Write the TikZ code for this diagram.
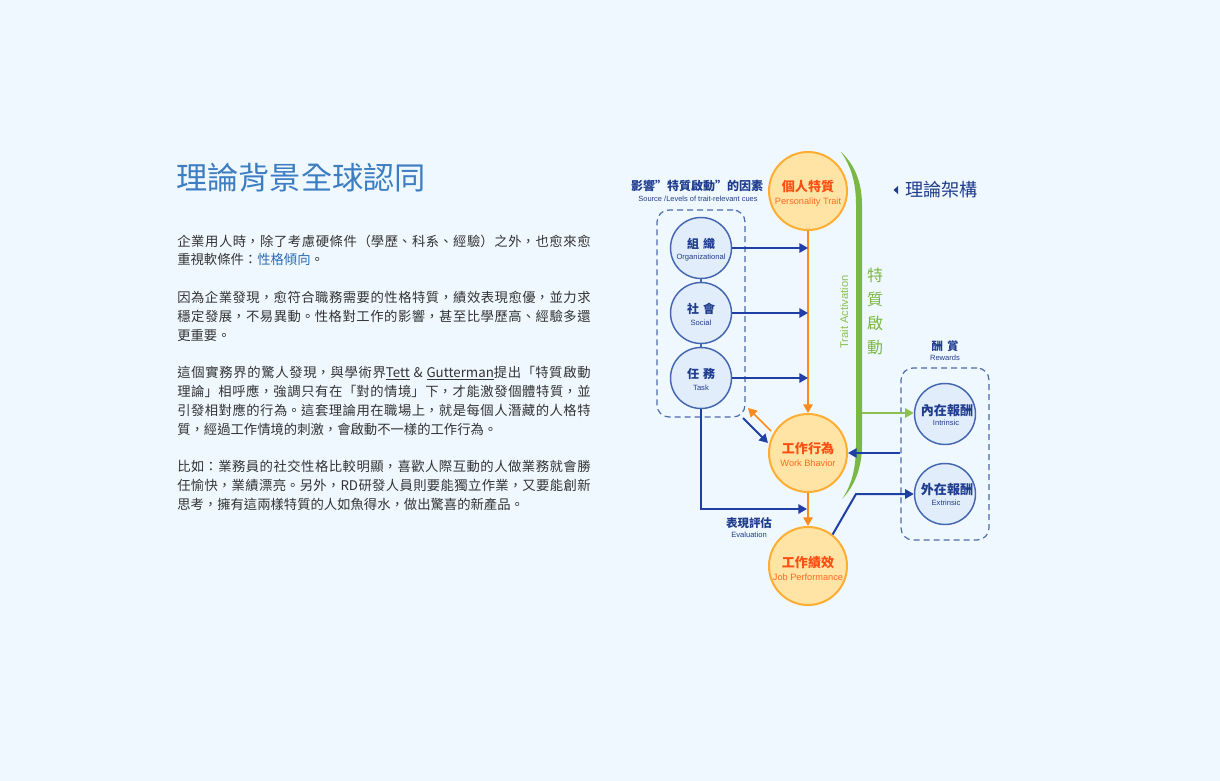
\documentclass[tikz,border=0pt]{standalone}
\usepackage{fontspec}
\setmainfont{Noto Sans CJK TC}
\newfontfamily\lat{Liberation Sans}
\usetikzlibrary{arrows.meta,calc}
\XeTeXlinebreaklocale "zh"
\XeTeXlinebreakskip=0pt plus 1pt
\definecolor{bg}{HTML}{F0F8FF}
\definecolor{titleblue}{HTML}{3D7DC2}
\definecolor{bodytext}{HTML}{333333}
\definecolor{linkblue}{HTML}{2B6CB8}
\definecolor{navy}{HTML}{1F3C8E}
\definecolor{arrowblue}{HTML}{1E3FA3}
\definecolor{cfill}{HTML}{E2EDFB}
\definecolor{cdraw}{HTML}{4466B0}
\definecolor{ofill}{HTML}{FFE4A6}
\definecolor{odraw}{HTML}{FFAD33}
\definecolor{oline}{HTML}{FF8A1C}
\definecolor{otext}{HTML}{FF4E12}
\definecolor{olabel}{HTML}{FF6A1E}
\definecolor{tgreen}{HTML}{7BB843}
\definecolor{lgreen}{HTML}{8CC152}
\definecolor{dashc}{HTML}{4B6BAA}
\tikzset{
  bcirc/.style={circle, draw=cdraw, fill=cfill, line width=1.1pt, minimum size=45.75pt, inner sep=0pt},
  ocirc/.style={circle, draw=odraw, fill=ofill, line width=1.5pt, minimum size=58.5pt, inner sep=0pt},
  dbox/.style={draw=dashc, dash pattern=on 4.5pt off 3pt, line width=0.9pt, rounded corners=9pt, inner sep=0pt},
  barrow/.style={draw=arrowblue, line width=1.5pt, -{Triangle[length=6.5pt,width=7pt]}},
  oarrow/.style={draw=oline, line width=1.5pt, -{Triangle[length=6.5pt,width=7pt]}},
  garrow/.style={draw=lgreen, line width=1.5pt, -{Triangle[length=6.5pt,width=7pt]}},
  body/.style={anchor=base west, inner sep=0pt, text=bodytext, text width=310pt, align=justify, font=\fontsize{10pt}{14.1pt}\selectfont},
  cjkb/.style={inner sep=0pt, text=navy, font=\fontsize{9pt}{10pt}\selectfont\bfseries},
  engs/.style={inner sep=0pt, text=navy, font=\lat\fontsize{5.7pt}{6.5pt}\selectfont},
  ocjk/.style={inner sep=0pt, text=otext, font=\fontsize{9.8pt}{11pt}\selectfont\bfseries},
  oeng/.style={inner sep=0pt, text=olabel, font=\lat\fontsize{6.9pt}{8pt}\selectfont},
}
\begin{document}
\begin{tikzpicture}[x=0.75pt,y=-0.75pt]
\fill[bg] (0,0) rectangle (1220,781);
\useasboundingbox (0,0) rectangle (1220,781);

% ---------- left text ----------
\node[anchor=west, inner sep=0pt, text=titleblue, font=\fontsize{23.4pt}{26pt}\selectfont] (title) at (176,178) {理論背景全球認同};

\node[body] (p1) at (177,246) {企業用人時，除了考慮硬條件（學歷、科系、經驗）之外，也愈來愈\linebreak
重視軟條件：\textcolor{linkblue}{性格傾向}。};

\node[body] (p2) at (177,302.4) {因為企業發現，愈符合職務需要的性格特質，績效表現愈優，並力求\linebreak
穩定發展，不易異動。性格對工作的影響，甚至比學歷高、經驗多還\linebreak
更重要。};

\node[body] (p3) at (177,377.6) {這個實務界的驚人發現，與學術界\underline{Tett} \& \underline{Gutterman}提出「特質啟動\linebreak
理論」相呼應，強調只有在「對的情境」下，才能激發個體特質，並\linebreak
引發相對應的行為。這套理論用在職場上，就是每個人潛藏的人格特\linebreak
質，經過工作情境的刺激，會啟動不一樣的工作行為。};

\node[body] (p4) at (177,471.6) {比如：業務員的社交性格比較明顯，喜歡人際互動的人做業務就會勝\linebreak
任愉快，業績漂亮。另外，RD研發人員則要能獨立作業，又要能創新\linebreak
思考，擁有這兩樣特質的人如魚得水，做出驚喜的新產品。};

% ---------- diagram headers ----------
\node[inner sep=0pt, text=navy, font=\fontsize{9pt}{10pt}\selectfont\bfseries] (srchead) at (697,186) {影響”特質啟動”的因素};
\node[engs, font=\lat\fontsize{5.6pt}{6.5pt}\selectfont] (srcsub) at (698,199) {Source /Levels of trait-relevant cues};

\fill[navy] (898,186) -- (898,194) -- (893.5,190) -- cycle;
\node[anchor=west, inner sep=0pt, text=navy, font=\fontsize{13.6pt}{15pt}\selectfont] (framehead) at (905,190) {理論架構};

% ---------- dashed boxes ----------
\node[dbox, minimum width=66pt, minimum height=155.25pt] (srcbox) at (701,313.5) {};
\node[dbox, minimum width=66pt, minimum height=129pt] (rewbox) at (945,454) {};

% ---------- green crescent ----------
\fill[tgreen] (841,152) .. controls (853,163) and (862,180) .. (862,205)
  -- (862,445) .. controls (862,470) and (853,488) .. (842,499)
  .. controls (851,486) and (856,470) .. (856,445)
  -- (856,205) .. controls (856,180) and (850,165) .. (841,152) -- cycle;
\node[inner sep=0pt, rotate=90, text=lgreen, font=\lat\fontsize{8.4pt}{9pt}\selectfont] (ta) at (844,312) {Trait Activation};
\node[inner sep=0pt, align=center, text=tgreen, font=\fontsize{12pt}{17.8pt}\selectfont] (tachars) at (875,311.5) {特\\質\\啟\\動};

% ---------- source circles ----------
\node[bcirc] (org) at (701,248) {};
\node[bcirc] (soc) at (701,313) {};
\node[bcirc] (task) at (701,378) {};
\draw[cdraw, line width=1.1pt] (org) -- (soc);
\draw[cdraw, line width=1.1pt] (soc) -- (task);
\node[cjkb] (orgT) at (701,244) {組\hspace{3pt}織};
\node[engs] (orgE) at (701,258) {Organizational};
\node[cjkb] (socT) at (701,309) {社\hspace{3pt}會};
\node[engs] (socE) at (701,323) {Social};
\node[cjkb] (taskT) at (701,374) {任\hspace{3pt}務};
\node[engs] (taskE) at (701,388) {Task};

% ---------- orange circles ----------
\node[ocirc] (trait) at (808,191) {};
\node[ocirc] (behav) at (808,453) {};
\node[ocirc] (perf) at (808,566) {};
\node[ocjk] (traitT) at (808,187) {個人特質};
\node[oeng] (traitE) at (808,202) {Personality Trait};
\node[ocjk] (behavT) at (808,449) {工作行為};
\node[oeng] (behavE) at (808,463) {Work Bhavior};
\node[ocjk] (perfT) at (808,563) {工作績效};
\node[oeng] (perfE) at (808,577) {Job Performance};

% ---------- reward circles ----------
\node[bcirc] (intr) at (945,414) {};
\node[bcirc] (extr) at (945,494) {};
\node[cjkb, font=\fontsize{9.8pt}{11pt}\selectfont\bfseries] (intrT) at (947,411) {內在報酬};
\node[engs] (intrE) at (946,423) {Intrinsic};
\node[cjkb, font=\fontsize{9.8pt}{11pt}\selectfont\bfseries] (extrT) at (947,490) {外在報酬};
\node[engs] (extrE) at (946,503) {Extrinsic};
\node[cjkb, font=\fontsize{8.5pt}{9pt}\selectfont\bfseries] (rewT) at (945,346) {酬\hspace{3pt}賞};
\node[engs] (rewE) at (945,358) {Rewards};

% ---------- connectors ----------
\draw[oarrow] (trait) -- (behav);
\draw[oarrow] (behav) -- (perf);
\draw[barrow] (org) -- (org -| trait);
\draw[barrow] (soc) -- (soc -| trait);
\draw[barrow] (task) -- (task -| trait);

\coordinate (evalend) at (807,509);
\draw[barrow] (task) |- (evalend);
\node[cjkb, font=\fontsize{8.6pt}{9pt}\selectfont\bfseries] (evalT) at (749,523) {表現評估};
\node[engs] (evalE) at (749,535) {Evaluation};

\coordinate (db1) at (743,418);
\coordinate (db2) at (768,443);
\draw[barrow] (db1) -- (db2);
\coordinate (do1) at (771,431);
\coordinate (do2) at (748,408);
\draw[oarrow, line width=1.2pt] (do1) -- (do2);

\coordinate (gsrc) at (862,413);
\draw[garrow] (gsrc) -- (gsrc -| intr.west);
\draw[barrow] (rewbox.west |- behav) -- (behav);
\coordinate (kink) at (856,494);
\draw[barrow] (perf.52) -- (kink) -- (extr);
\end{tikzpicture}
\end{document}
